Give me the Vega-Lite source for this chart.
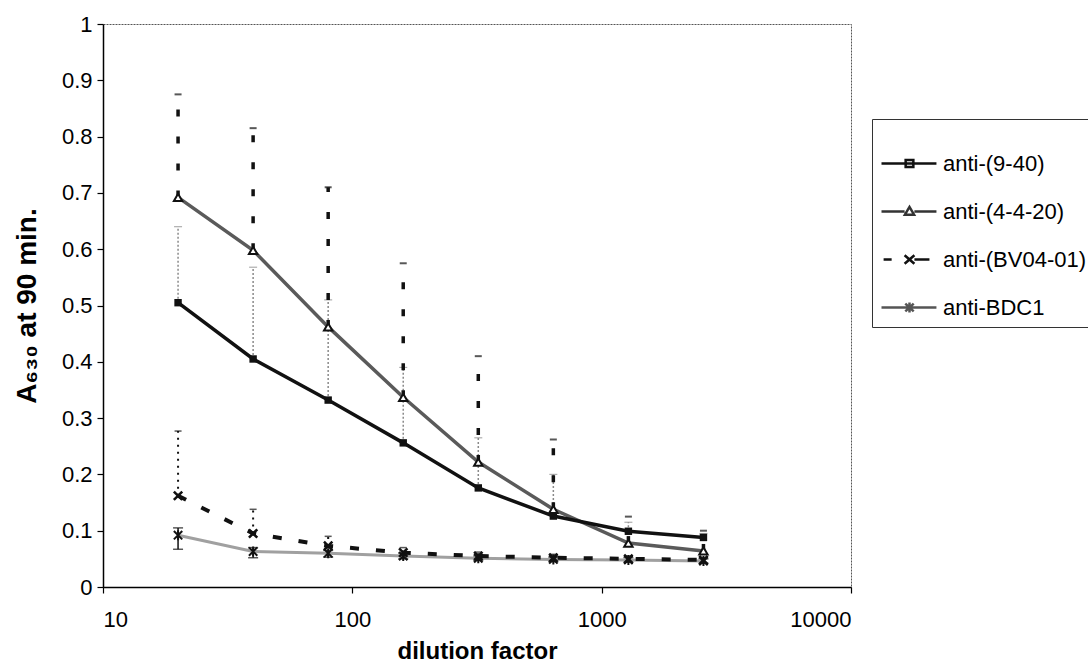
{
  "$schema": "https://vega.github.io/schema/vega-lite/v6.json",
  "autosize": "none",
  "width": 748,
  "height": 563,
  "padding": {"left": 103, "top": 24, "right": 237, "bottom": 82},
  "background": "white",
  "config": {
    "view": {"stroke": "#555", "strokeWidth": 1, "strokeDash": [2, 1]},
    "font": "Liberation Sans",
    "axis": {"grid": false, "domainColor": "#000", "domainWidth": 1.5, "tickColor": "#000", "tickWidth": 1.2, "tickSize": 6, "labelFont": "Liberation Sans", "labelFontSize": 22, "labelColor": "#000", "titleFont": "Liberation Sans", "titleFontWeight": "bold", "titleFontSize": 24, "titleColor": "#000"}
  },
  "data": {"values": [
    {"series": "anti-(9-40)", "dilution": 20, "a630": 0.505, "hi": 0.64},
    {"series": "anti-(9-40)", "dilution": 40, "a630": 0.405, "hi": 0.568},
    {"series": "anti-(9-40)", "dilution": 80, "a630": 0.332, "hi": 0.51},
    {"series": "anti-(9-40)", "dilution": 160, "a630": 0.256, "hi": 0.39},
    {"series": "anti-(9-40)", "dilution": 320, "a630": 0.176, "hi": 0.265},
    {"series": "anti-(9-40)", "dilution": 640, "a630": 0.126, "hi": 0.2},
    {"series": "anti-(9-40)", "dilution": 1280, "a630": 0.099, "hi": 0.115},
    {"series": "anti-(9-40)", "dilution": 2560, "a630": 0.088, "hi": 0.095},
    {"series": "anti-(4-4-20)", "dilution": 20, "a630": 0.692, "hi": 0.875},
    {"series": "anti-(4-4-20)", "dilution": 40, "a630": 0.598, "hi": 0.815},
    {"series": "anti-(4-4-20)", "dilution": 80, "a630": 0.462, "hi": 0.71},
    {"series": "anti-(4-4-20)", "dilution": 160, "a630": 0.337, "hi": 0.575},
    {"series": "anti-(4-4-20)", "dilution": 320, "a630": 0.222, "hi": 0.41},
    {"series": "anti-(4-4-20)", "dilution": 640, "a630": 0.138, "hi": 0.262},
    {"series": "anti-(4-4-20)", "dilution": 1280, "a630": 0.078, "hi": 0.125},
    {"series": "anti-(4-4-20)", "dilution": 2560, "a630": 0.064, "hi": 0.1},
    {"series": "anti-(BV04-01)", "dilution": 20, "a630": 0.162, "hi": 0.277},
    {"series": "anti-(BV04-01)", "dilution": 40, "a630": 0.095, "hi": 0.138},
    {"series": "anti-(BV04-01)", "dilution": 80, "a630": 0.073, "hi": 0.09},
    {"series": "anti-(BV04-01)", "dilution": 160, "a630": 0.061, "hi": 0.07},
    {"series": "anti-(BV04-01)", "dilution": 320, "a630": 0.055, "hi": 0.062},
    {"series": "anti-(BV04-01)", "dilution": 640, "a630": 0.052, "hi": 0.058},
    {"series": "anti-(BV04-01)", "dilution": 1280, "a630": 0.05, "hi": 0.055},
    {"series": "anti-(BV04-01)", "dilution": 2560, "a630": 0.048, "hi": 0.052},
    {"series": "anti-BDC1", "dilution": 20, "a630": 0.092, "lo": 0.067, "hi": 0.105},
    {"series": "anti-BDC1", "dilution": 40, "a630": 0.063, "lo": 0.052, "hi": 0.07},
    {"series": "anti-BDC1", "dilution": 80, "a630": 0.06, "lo": 0.053, "hi": 0.065},
    {"series": "anti-BDC1", "dilution": 160, "a630": 0.055, "lo": 0.05, "hi": 0.06},
    {"series": "anti-BDC1", "dilution": 320, "a630": 0.051, "lo": 0.047, "hi": 0.055},
    {"series": "anti-BDC1", "dilution": 640, "a630": 0.049, "lo": 0.045, "hi": 0.053},
    {"series": "anti-BDC1", "dilution": 1280, "a630": 0.048, "lo": 0.044, "hi": 0.052},
    {"series": "anti-BDC1", "dilution": 2560, "a630": 0.046, "lo": 0.042, "hi": 0.05}
  ]},
  "encoding": {
    "x": {"field": "dilution", "type": "quantitative",
      "scale": {"type": "log", "domain": [10, 10000], "nice": false},
      "axis": {"values": [10, 100, 1000, 10000], "format": "d", "labelPadding": 16, "title": "dilution factor", "titlePadding": 9}},
    "y": {"field": "a630", "type": "quantitative",
      "scale": {"domain": [0, 1], "nice": false, "zero": false},
      "axis": {"values": [0, 0.1, 0.2, 0.3, 0.4, 0.5, 0.6, 0.7, 0.8, 0.9, 1], "format": ".1~f", "labelPadding": 5, "title": "A₆₃₀ at 90 min.", "titleFontSize": 28, "titlePadding": 20}}
  },
  "layer": [
    {"transform": [{"filter": "datum.series === 'anti-(9-40)'"}],
     "mark": {"type": "rule", "color": "#8a8a8a", "strokeWidth": 1.5, "strokeDash": [2, 2]},
     "encoding": {"y2": {"field": "hi"}}},
    {"transform": [{"filter": "datum.series === 'anti-(9-40)'"}],
     "mark": {"type": "tick", "orient": "horizontal", "color": "#8a8a8a", "size": 8, "thickness": 1.2},
     "encoding": {"y": {"field": "hi", "type": "quantitative"}}},
    {"transform": [{"filter": "datum.series === 'anti-(4-4-20)'"}],
     "mark": {"type": "rule", "color": "#111", "strokeWidth": 3.5, "strokeDash": [7, 20]},
     "encoding": {"y2": {"field": "hi"}}},
    {"transform": [{"filter": "datum.series === 'anti-(4-4-20)'"}],
     "mark": {"type": "tick", "orient": "horizontal", "color": "#111", "size": 7, "thickness": 2},
     "encoding": {"y": {"field": "hi", "type": "quantitative"}}},
    {"transform": [{"filter": "datum.series === 'anti-(BV04-01)'"}],
     "mark": {"type": "rule", "color": "#111", "strokeWidth": 2, "strokeDash": [2, 5]},
     "encoding": {"y2": {"field": "hi"}}},
    {"transform": [{"filter": "datum.series === 'anti-(BV04-01)'"}],
     "mark": {"type": "tick", "orient": "horizontal", "color": "#111", "size": 7, "thickness": 1.5},
     "encoding": {"y": {"field": "hi", "type": "quantitative"}}},
    {"transform": [{"filter": "datum.series === 'anti-BDC1'"}],
     "mark": {"type": "rule", "color": "#111", "strokeWidth": 1.5},
     "encoding": {"y": {"field": "lo", "type": "quantitative"}, "y2": {"field": "hi"}}},
    {"transform": [{"filter": "datum.series === 'anti-BDC1'"}],
     "mark": {"type": "tick", "orient": "horizontal", "color": "#111", "size": 10, "thickness": 1.5},
     "encoding": {"y": {"field": "lo", "type": "quantitative"}}},
    {"transform": [{"filter": "datum.series === 'anti-BDC1'"}],
     "mark": {"type": "tick", "orient": "horizontal", "color": "#111", "size": 10, "thickness": 1.5},
     "encoding": {"y": {"field": "hi", "type": "quantitative"}}},
    {"transform": [{"filter": "datum.series === 'anti-BDC1'"}],
     "mark": {"type": "line", "color": "#a0a0a0", "strokeWidth": 3}},
    {"transform": [{"filter": "datum.series === 'anti-(BV04-01)'"}],
     "mark": {"type": "line", "color": "#111", "strokeWidth": 4, "strokeDash": [9, 17]}},
    {"transform": [{"filter": "datum.series === 'anti-(4-4-20)'"}],
     "mark": {"type": "line", "color": "#5a5a5a", "strokeWidth": 3.5}},
    {"transform": [{"filter": "datum.series === 'anti-(9-40)'"}],
     "mark": {"type": "line", "color": "#111", "strokeWidth": 3.5}},
    {"transform": [{"filter": "datum.series === 'anti-(9-40)'"}],
     "mark": {"type": "point", "shape": "square", "filled": true, "color": "#111", "size": 55, "opacity": 1}},
    {"transform": [{"filter": "datum.series === 'anti-(4-4-20)'"}],
     "mark": {"type": "point", "shape": "triangle-up", "fill": "white", "stroke": "#111", "strokeWidth": 2, "size": 70, "opacity": 1}},
    {"transform": [{"filter": "datum.series === 'anti-(BV04-01)'"}],
     "mark": {"type": "point", "shape": "M-1,-1L1,1M-1,1L1,-1", "filled": false, "stroke": "#111", "strokeWidth": 2.5, "size": 70, "opacity": 1}},
    {"transform": [{"filter": "datum.series === 'anti-BDC1'"}],
     "mark": {"type": "point", "shape": "M-1,-1L1,1M-1,1L1,-1M0,-1.2L0,1.2", "filled": false, "stroke": "#111", "strokeWidth": 2, "size": 70, "opacity": 1}},
    {"transform": [{"filter": "false"}],
     "mark": {"type": "point", "filled": false, "size": 4900, "strokeWidth": 2.5, "opacity": 1},
     "encoding": {
       "x": {"value": 0}, "y": {"value": 0},
       "shape": {"field": "series", "type": "nominal",
         "scale": {"domain": ["anti-(9-40)", "anti-(4-4-20)", "anti-(BV04-01)", "anti-BDC1"],
                   "range": ["M-1,0L0.57,0M-0.31,-0.1H-0.09V0.1H-0.31Z",
                             "M-1,0L-0.34,0M-0.06,0L0.57,0M-0.33,0.09L-0.2,-0.13L-0.07,0.09Z",
                             "M-0.94,0L-0.71,0M-0.34,-0.12L-0.06,0.12M-0.34,0.12L-0.06,-0.12M-0.06,0L0.37,0",
                             "M-1,0L0.57,0M-0.32,-0.11L-0.08,0.11M-0.32,0.11L-0.08,-0.11M-0.2,-0.14L-0.2,0.14"]},
         "legend": {"title": null, "orient": "none", "legendX": 769, "legendY": 95, "strokeColor": "#333", "padding": 8, "rowPadding": 0, "labelFont": "Liberation Sans", "labelFontSize": 22, "labelColor": "#000", "labelOffset": -10, "symbolSize": 4900, "symbolStrokeWidth": 2.5, "labelLimit": 300}},
       "color": {"field": "series", "type": "nominal",
         "scale": {"domain": ["anti-(9-40)", "anti-(4-4-20)", "anti-(BV04-01)", "anti-BDC1"], "range": ["#111", "#333", "#111", "#555"]},
         "legend": {"title": null, "orient": "none", "legendX": 769, "legendY": 95, "strokeColor": "#333", "padding": 8, "rowPadding": 0, "labelFont": "Liberation Sans", "labelFontSize": 22, "labelColor": "#000", "labelOffset": -10, "symbolSize": 4900, "symbolStrokeWidth": 2.5, "labelLimit": 300}}
     }}
  ]
}
